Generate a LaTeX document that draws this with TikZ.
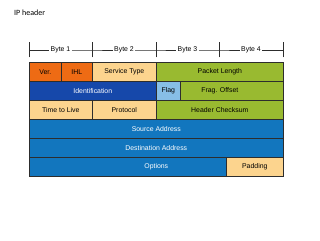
\documentclass[tikz,border=0pt]{standalone}
\usepackage{fontspec}
\setmainfont{Liberation Sans}
\newfontfamily\titlefont{Carlito}
\definecolor{verorange}{RGB}{238,107,20}
\definecolor{peach}{RGB}{252,212,142}
\definecolor{leafgreen}{RGB}{153,186,48}
\definecolor{navyblue}{RGB}{22,72,170}
\definecolor{flagblue}{RGB}{135,190,230}
\definecolor{rowblue}{RGB}{18,118,190}
\definecolor{cellline}{RGB}{45,45,45}
\begin{document}
\begin{tikzpicture}[x=1pt, y=-1pt,
  cell/.style={draw=cellline, line width=0.6pt, inner sep=0pt, anchor=north west,
    minimum height=19pt, font=\fontsize{6.9}{8}\selectfont},
  bytelabel/.style={fill=white, inner sep=1.5pt, font=\fontsize{6.9}{8}\selectfont}]
\useasboundingbox (0,0) rectangle (320,240);
\node[anchor=west, inner sep=0pt, font=\titlefont\fontsize{8}{9}\selectfont] (title) at (14,13) {IP header};
% byte ruler
\coordinate (t0) at (29,50);
\coordinate (t1) at (92,50);
\coordinate (t2) at (156,50);
\coordinate (t3) at (219,50);
\coordinate (t4) at (283,50);
\foreach \t in {t0,t1,t2,t3,t4} {
  \draw[cellline, line width=0.5pt] ([yshift=-7.5pt]\t) -- ([yshift=7.5pt]\t);
}
\node[bytelabel] (b1) at (60.5,50) {Byte 1};
\node[bytelabel] (b2) at (124,50) {Byte 2};
\node[bytelabel] (b3) at (187.5,50) {Byte 3};
\node[bytelabel] (b4) at (251,50) {Byte 4};
\draw[cellline, line width=0.5pt] (t0) -- (b1) -- (t1) -- (b2) -- (t2) -- (b3) -- (t3) -- (b4) -- (t4);
% row 1
\node[cell, fill=verorange, minimum width=32pt] (ver) at (29,62) {Ver.};
\node[cell, fill=verorange, minimum width=31pt] (ihl) at (61,62) {IHL};
\node[cell, fill=peach, minimum width=64pt] (tos) at (92,62) {Service Type};
\node[cell, fill=leafgreen, minimum width=127pt] (len) at (156,62) {Packet Length};
% row 2
\node[cell, fill=navyblue, text=white, minimum width=127pt] (ident) at (29,81) {Identification};
\node[cell, fill=leafgreen, minimum width=127pt] (frag) at (156,81) {Frag. Offset};
\node[cell, fill=flagblue, minimum width=24pt] (flag) at (156,81) {Flag};
% row 3
\node[cell, fill=peach, minimum width=63pt] (ttl) at (29,100) {Time to Live};
\node[cell, fill=peach, minimum width=64pt] (proto) at (92,100) {Protocol};
\node[cell, fill=leafgreen, minimum width=127pt] (csum) at (156,100) {Header Checksum};
% rows 4-6
\node[cell, fill=rowblue, text=white, minimum width=254pt] (src) at (29,119) {Source Address};
\node[cell, fill=rowblue, text=white, minimum width=254pt] (dst) at (29,138) {Destination Address};
\node[cell, fill=rowblue, text=white, minimum width=254pt] (opts) at (29,157) {Options};
\node[cell, fill=peach, minimum width=57pt] (pad) at (226,157) {Padding};
\end{tikzpicture}
\end{document}
